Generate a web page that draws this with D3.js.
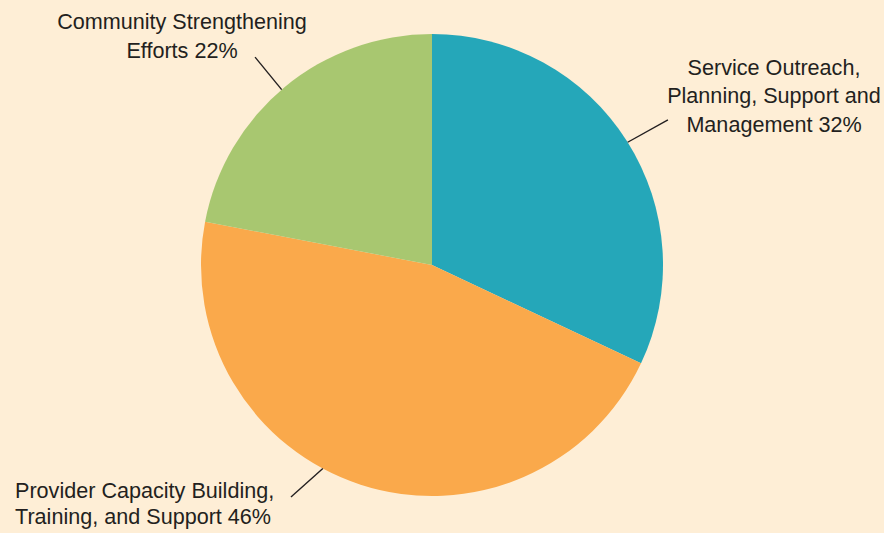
<!DOCTYPE html>
<html><head><meta charset="utf-8">
<script src="https://cdn.jsdelivr.net/npm/d3@7"></script>
<style>html,body{margin:0;padding:0;background:#feeed6;}svg{display:block;}</style>
</head><body>
<svg id="chart" width="884" height="533"></svg>
<script>
const categories = ["Service Outreach, Planning, Support and Management", "Provider Capacity Building, Training, and Support", "Community Strengthening Efforts"];
const values = [32, 46, 22];
const colors = ["#25a7b9", "#faa94b", "#a8c770"];
const labelLines = [
  ["Service Outreach,", "Planning, Support and", "Management 32%"],
  ["Provider Capacity Building,", "Training, and Support 46%"],
  ["Community Strengthening", "Efforts 22%"]
];

const W = 884, H = 533, cx = 432, cy = 265, R = 231;
const svg = d3.select("#chart");
svg.append("rect").attr("width", W).attr("height", H).attr("fill", "#feeed6");
const g = svg.append("g").attr("transform", `translate(${cx},${cy})`);
const pie = d3.pie().sort(null).value(d => d)(values);
const arc = d3.arc().innerRadius(0).outerRadius(R);
g.selectAll("path").data(pie).join("path")
  .attr("d", arc).attr("fill", (d, i) => colors[i]);

const leaders = [
  {a0: 57.9, r0: R, a1: 58.4, r1: 277},
  {a0: 208.2, r0: R, a1: 211.3, r1: 271.5},
  {a0: 319.4, r0: R, a1: 319.6, r1: 273}
];
const pt = (r, deg) => { const a = deg * Math.PI / 180; return [r * Math.sin(a), -r * Math.cos(a)]; };
leaders.forEach(l => {
  const p0 = pt(l.r0, l.a0), p1 = pt(l.r1, l.a1);
  g.append("line").attr("x1", p0[0]).attr("y1", p0[1]).attr("x2", p1[0]).attr("y2", p1[1])
    .attr("stroke", "#231f20").attr("stroke-width", 1.4);
});

const labelPos = [
  {x: 774, y: 75, anchor: "middle", dy: 28.3},
  {x: 15, y: 497.5, anchor: "start", dy: 27},
  {x: 182, y: 29, anchor: "middle", dy: 29}
];
labelLines.forEach((lines, i) => {
  const p = labelPos[i];
  const t = svg.append("text").attr("font-family", "Liberation Sans, Arial, sans-serif")
    .attr("transform", `translate(${p.x},${p.y}) scale(0.96,1)`)
    .attr("font-size", 22.5).attr("fill", "#231f20").attr("text-anchor", p.anchor);
  lines.forEach((s, j) => t.append("tspan").attr("x", 0).attr("y", j * p.dy).text(s));
});
</script>
</body></html>
